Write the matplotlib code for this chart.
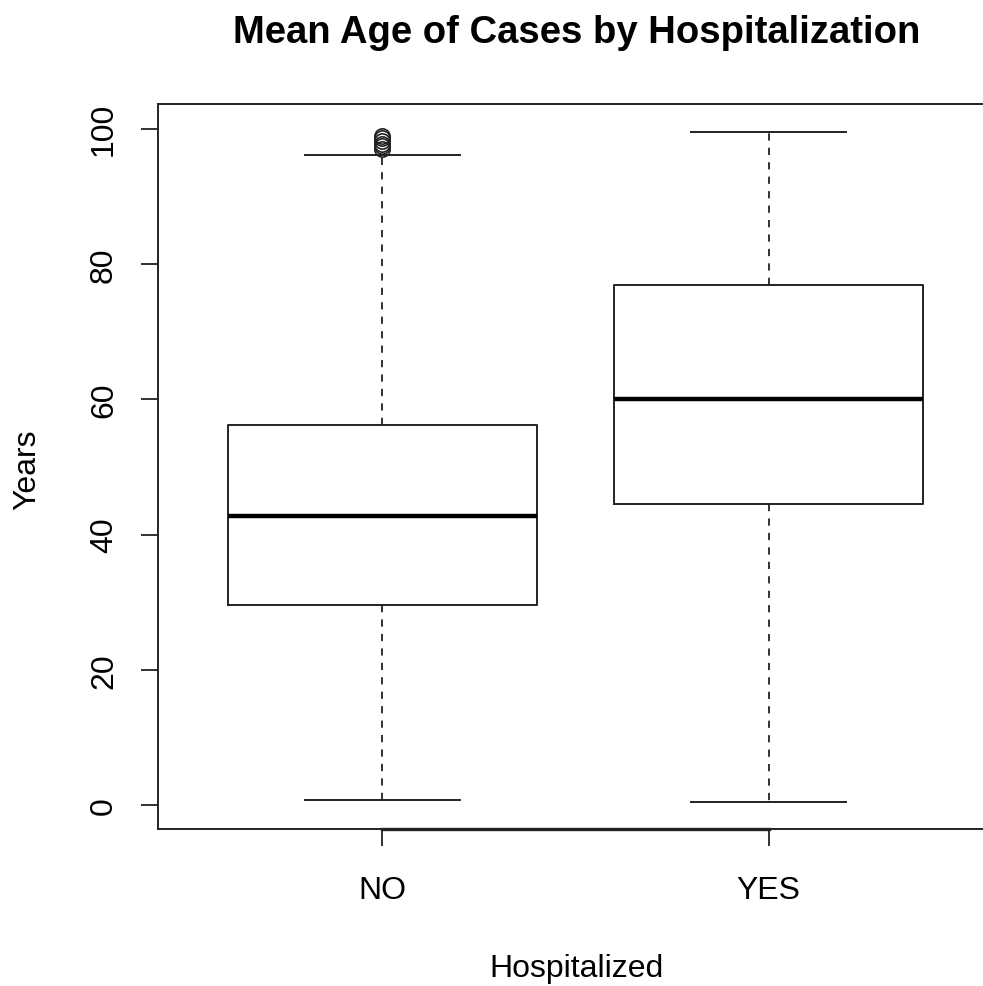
import numpy as np
import matplotlib
matplotlib.use('Agg')
from matplotlib import pyplot as plt

plt.rcParams['font.family'] = ['Liberation Sans', 'DejaVu Sans']

# data
groups = ['NO', 'YES']
q1 = [29.6, 44.5]
med = [42.8, 60.1]
q3 = [56.2, 76.9]
whislo = [0.7, 0.4]
whishi = [96.1, 99.6]
fliers_no = [97.0, 97.4, 97.8, 98.2, 98.6, 99.0]
fliers_yes = []
yticks = [0, 20, 40, 60, 80, 100]

stats = []
for i, g in enumerate(groups):
    stats.append({'label': g, 'q1': q1[i], 'med': med[i], 'q3': q3[i],
                  'whislo': whislo[i], 'whishi': whishi[i],
                  'fliers': [fliers_no, fliers_yes][i]})

fig = plt.figure(figsize=(9.83, 9.87), dpi=100)
ax = fig.add_axes([0.1607, 0.1591, 0.8495, 0.7345])

lc = '#222222'
ax.bxp(stats, positions=[1, 2], widths=0.8, capwidths=0.4,
       boxprops=dict(color=lc, linewidth=1.4),
       whiskerprops=dict(color=lc, linewidth=1.3, linestyle=(0, (4, 4))),
       capprops=dict(color=lc, linewidth=1.4),
       medianprops=dict(color='black', linewidth=3.2, solid_capstyle='butt'),
       flierprops=dict(marker='o', markerfacecolor='none', markeredgecolor=lc,
                       markersize=11, markeredgewidth=1.2))

ylo, yhi = -3.53, 103.67
ax.set_xlim(0.42, 2.58)
ax.set_ylim(ylo, yhi)
ax.set_xticks([1, 2])
ax.set_xticklabels(groups, fontsize=23)
ax.set_yticks(yticks)
ax.set_yticklabels([str(v) for v in yticks], fontsize=23,
                   rotation=90, va='center')
ax.tick_params(axis='both', length=12, width=1.3, color=lc)
ax.tick_params(axis='y', pad=16)
ax.tick_params(axis='x', pad=21)
for s in ax.spines.values():
    s.set_linewidth(1.4)
    s.set_color(lc)

# R draws the axis line over the frame between first and last tick
ax.plot([1, 2], [ylo, ylo], color=lc, lw=2.4, clip_on=False, zorder=5)

fig.text(0.586, 0.0101, 'Hospitalized', fontsize=23, ha='center', va='baseline')
fig.text(0.0275, 0.5238, 'Years', fontsize=23, rotation=90, ha='center', va='center')
fig.text(0.587, 0.9564, 'Mean Age of Cases by Hospitalization', fontsize=27.5,
         fontweight='bold', ha='center', va='baseline')

plt.savefig('out.png', dpi=100)
